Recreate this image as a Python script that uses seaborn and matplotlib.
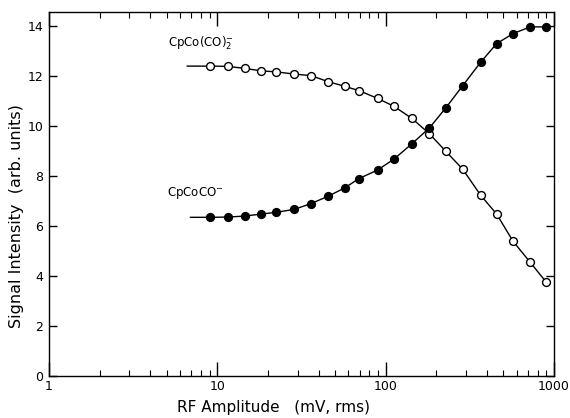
import matplotlib
matplotlib.use("Agg")
import matplotlib.pyplot as plt
import seaborn as sns
import pandas as pd
from matplotlib.ticker import LogLocator, NullFormatter

# ---- data ----
rf_amplitude = [9.1, 11.5, 14.5, 18.2, 22.4, 28.7, 36.0, 45.4, 57.2, 69.3, 89.4,
                112, 143, 182, 227, 287, 366, 456, 571, 722, 895]
dicarbonyl = [12.39, 12.38, 12.30, 12.20, 12.16, 12.07, 12.01, 11.77, 11.58, 11.41, 11.10,
              10.78, 10.30, 9.68, 8.99, 8.26, 7.23, 6.47, 5.38, 4.54, 3.76]
monocarbonyl = [6.34, 6.35, 6.39, 6.47, 6.54, 6.66, 6.89, 7.18, 7.52, 7.89, 8.23,
                8.67, 9.28, 9.92, 10.71, 11.61, 12.54, 13.29, 13.69, 13.96, 13.96]
# fitted curve lead-in (curve starts before first measured point)
lead_x_dicarbonyl = 6.6
lead_x_monocarbonyl = 6.9
label_dicarbonyl = r"CpCo(CO)$_2^{-}$"
label_monocarbonyl = r"CpCoCO$^{-}$"
y_ticks = [0, 2, 4, 6, 8, 10, 12, 14]
x_ticks = [1, 10, 100, 1000]
x_tick_labels = ["1", "10", "100", "1000"]

sns.set_style("ticks")
plt.rcParams["font.family"] = ["DejaVu Sans"]
plt.rcParams["text.color"] = "black"
plt.rcParams["axes.labelcolor"] = "black"
plt.rcParams["xtick.color"] = "black"
plt.rcParams["ytick.color"] = "black"

fig = plt.figure(figsize=(5.7, 4.18), dpi=100)
ax = fig.add_axes([0.086, 0.101, 0.886, 0.870])

curve_d = pd.DataFrame({"x": [lead_x_dicarbonyl] + rf_amplitude,
                        "y": [dicarbonyl[0]] + dicarbonyl})
curve_m = pd.DataFrame({"x": [lead_x_monocarbonyl] + rf_amplitude,
                        "y": [monocarbonyl[0]] + monocarbonyl})
pts = pd.DataFrame({"x": rf_amplitude, "d": dicarbonyl, "m": monocarbonyl})

sns.lineplot(data=curve_d, x="x", y="y", ax=ax, color="black", lw=1.0, sort=False, zorder=2)
sns.lineplot(data=curve_m, x="x", y="y", ax=ax, color="black", lw=1.0, sort=False, zorder=2)
sns.scatterplot(data=pts, x="x", y="d", ax=ax, s=32, facecolor="white",
                edgecolor="black", linewidth=1.0, zorder=3)
sns.scatterplot(data=pts, x="x", y="m", ax=ax, s=32, color="black",
                edgecolor="black", linewidth=1.0, zorder=3)

ax.set_xscale("log")
ax.set_xlim(1, 1000)
ax.set_ylim(0, 14.55)

ax.set_xticks(x_ticks)
ax.set_xticklabels(x_tick_labels)
ax.xaxis.set_minor_locator(LogLocator(base=10, subs=range(2, 10)))
ax.xaxis.set_minor_formatter(NullFormatter())
ax.set_yticks(y_ticks)

ax.tick_params(axis="x", which="major", direction="in", length=10, width=1,
               top=True, bottom=True, labelsize=9, pad=3)
ax.tick_params(axis="x", which="minor", direction="in", length=4, width=0.8,
               top=True, bottom=True)
ax.tick_params(axis="y", which="major", direction="in", length=6, width=1,
               left=True, right=True, labelsize=9, pad=4)

for s in ax.spines.values():
    s.set_color("black")
    s.set_linewidth(1.0)

ax.set_xlabel("RF Amplitude   (mV, rms)", fontsize=11, va="center")
ax.set_ylabel("Signal Intensity  (arb. units)", fontsize=11.5)
ax.xaxis.set_label_coords(0.444, -0.088)
ax.yaxis.set_label_coords(-0.05, 0.44)

ax.text(5.1, 13.3, label_dicarbonyl, fontsize=8.5, ha="left", va="center")
ax.text(5.0, 7.3, label_monocarbonyl, fontsize=8.5, ha="left", va="center")

fig.savefig("out.png", dpi=100, facecolor="white")
